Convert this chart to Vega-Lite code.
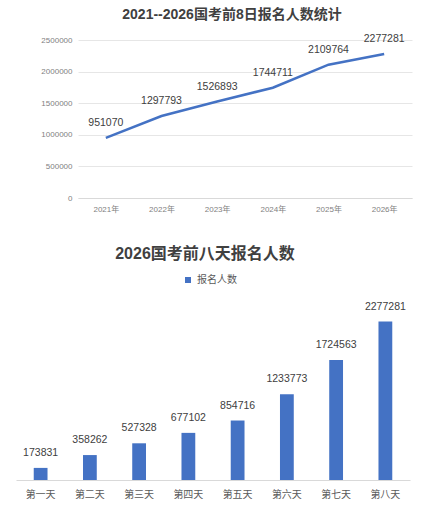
{
  "$schema": "https://vega.github.io/schema/vega-lite/v6.json",
  "padding": {"left": 23, "top": 8, "right": 0, "bottom": 0},
  "spacing": 32,
  "background": "white",
  "config": {
    "font": "Liberation Sans, Noto Sans CJK SC, sans-serif",
    "view": {"stroke": null},
    "axis": {
      "title": null,
      "ticks": false,
      "domainColor": "#d9d9d9",
      "gridColor": "#e6e6e6",
      "labelColor": "#7f7f7f",
      "labelFont": "Liberation Sans, Noto Sans CJK SC, sans-serif"
    },
    "title": {
      "font": "Liberation Sans, Noto Sans CJK SC, sans-serif",
      "fontWeight": "bold",
      "color": "#404040",
      "anchor": "middle",
      "frame": "group"
    }
  },
  "vconcat": [
    {
      "title": {"text": "2021--2026国考前8日报名人数统计", "fontSize": 14, "offset": 12, "dx": -13},
      "width": 334,
      "height": 158,
      "data": {
        "values": [
          {"年份": "2021年", "人数": 951070},
          {"年份": "2022年", "人数": 1297793},
          {"年份": "2023年", "人数": 1526893},
          {"年份": "2024年", "人数": 1744711},
          {"年份": "2025年", "人数": 2109764},
          {"年份": "2026年", "人数": 2277281}
        ]
      },
      "encoding": {
        "x": {
          "field": "年份",
          "type": "ordinal",
          "sort": null,
          "scale": {"type": "point", "padding": 0.5},
          "axis": {"labelAngle": 0, "labelFontSize": 8, "labelPadding": 7, "grid": false}
        },
        "y": {
          "field": "人数",
          "type": "quantitative",
          "scale": {"domain": [0, 2500000]},
          "axis": {
            "values": [0, 500000, 1000000, 1500000, 2000000, 2500000],
            "format": "d",
            "domain": false,
            "grid": true,
            "labelFontSize": 8,
            "labelPadding": 6
          }
        }
      },
      "layer": [
        {"mark": {"type": "line", "color": "#4472C4", "strokeWidth": 2.5}},
        {
          "mark": {"type": "text", "dy": -15, "fontSize": 10.5, "color": "#404040"},
          "encoding": {"text": {"field": "人数", "type": "quantitative", "format": "d"}}
        }
      ]
    },
    {
      "title": {"text": "2026国考前八天报名人数", "fontSize": 16, "offset": 40, "dx": -39},
      "width": 332,
      "height": 174,
      "data": {
        "values": [
          {"天": "第一天", "人数": 173831, "系列": "报名人数"},
          {"天": "第二天", "人数": 358262, "系列": "报名人数"},
          {"天": "第三天", "人数": 527328, "系列": "报名人数"},
          {"天": "第四天", "人数": 677102, "系列": "报名人数"},
          {"天": "第五天", "人数": 854716, "系列": "报名人数"},
          {"天": "第六天", "人数": 1233773, "系列": "报名人数"},
          {"天": "第七天", "人数": 1724563, "系列": "报名人数"},
          {"天": "第八天", "人数": 2277281, "系列": "报名人数"}
        ]
      },
      "encoding": {
        "x": {
          "field": "天",
          "type": "ordinal",
          "sort": null,
          "scale": {"range": [-62, 332], "paddingInner": 0.72, "paddingOuter": 0.36},
          "axis": {"labelAngle": 0, "labelFontSize": 10, "labelColor": "#595959", "labelPadding": 9, "grid": false}
        },
        "y": {
          "field": "人数",
          "type": "quantitative",
          "scale": {"domain": [0, 2500000]},
          "axis": null
        }
      },
      "layer": [
        {
          "mark": {"type": "bar"},
          "encoding": {
            "color": {
              "field": "系列",
              "type": "nominal",
              "scale": {"range": ["#4472C4"]},
              "legend": {
                "orient": "none",
                "legendX": 105,
                "legendY": 235,
                "title": null,
                "padding": 0,
                "symbolType": "square",
                "symbolSize": 36,
                "symbolStrokeWidth": 0,
                "labelFontSize": 10,
                "labelColor": "#595959",
                "labelOffset": 4
              }
            }
          }
        },
        {
          "mark": {"type": "text", "dy": -15, "fontSize": 10.5, "color": "#404040"},
          "encoding": {"text": {"field": "人数", "type": "quantitative", "format": "d"}}
        }
      ]
    }
  ]
}
